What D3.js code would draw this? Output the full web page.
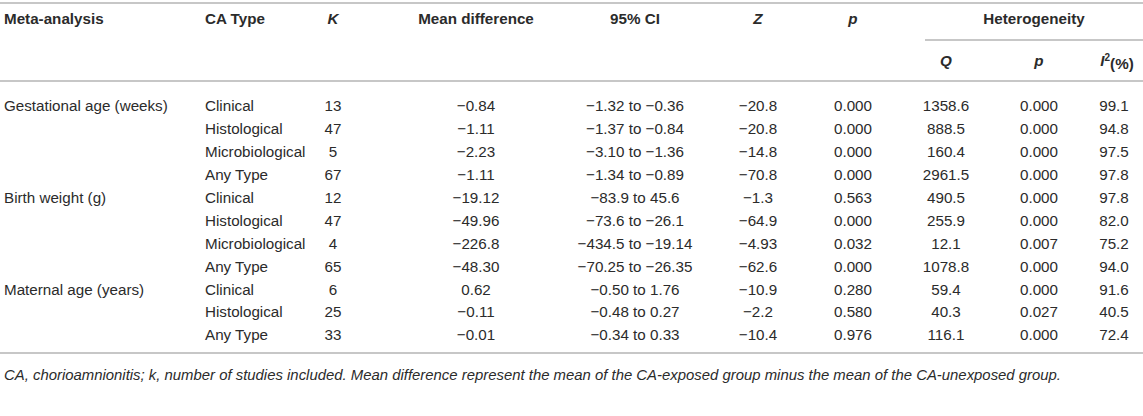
<!DOCTYPE html>
<html><head><meta charset="utf-8">
<script src="https://cdn.jsdelivr.net/npm/d3@7/dist/d3.min.js"></script>
<style>
body{margin:0;background:#fff;}
svg text{font-family:"Liberation Sans",Arial,Helvetica,sans-serif;fill:#2b2b2b;}
</style></head>
<body><svg id="t" width="1143" height="416"></svg>
<script>
const metaGroups = ["Gestational age (weeks)","","","","Birth weight (g)","","","","Maternal age (years)","",""];
const caTypes = ["Clinical","Histological","Microbiological","Any Type","Clinical","Histological","Microbiological","Any Type","Clinical","Histological","Any Type"];
const kValues = ["13","47","5","67","12","47","4","65","6","25","33"];
const meanDiff = ["\u22120.84","\u22121.11","\u22122.23","\u22121.11","\u221219.12","\u221249.96","\u2212226.8","\u221248.30","0.62","\u22120.11","\u22120.01"];
const ci = ["\u22121.32 to \u22120.36","\u22121.37 to \u22120.84","\u22123.10 to \u22121.36","\u22121.34 to \u22120.89","\u221283.9 to 45.6","\u221273.6 to \u221226.1","\u2212434.5 to \u221219.14","\u221270.25 to \u221226.35","\u22120.50 to 1.76","\u22120.48 to 0.27","\u22120.34 to 0.33"];
const zValues = ["\u221220.8","\u221220.8","\u221214.8","\u221270.8","\u22121.3","\u221264.9","\u22124.93","\u221262.6","\u221210.9","\u22122.2","\u221210.4"];
const pValues = ["0.000","0.000","0.000","0.000","0.563","0.000","0.032","0.000","0.280","0.580","0.976"];
const qValues = ["1358.6","888.5","160.4","2961.5","490.5","255.9","12.1","1078.8","59.4","40.3","116.1"];
const hetP = ["0.000","0.000","0.000","0.000","0.000","0.000","0.007","0.000","0.000","0.027","0.000"];
const i2Values = ["99.1","94.8","97.5","97.8","97.8","82.0","75.2","94.0","91.6","40.5","72.4"];
const footnote = "CA, chorioamnionitis; k, number of studies included. Mean difference represent the mean of the CA-exposed group minus the mean of the CA-unexposed group.";

const columns = [
  {key:"meta", vals:metaGroups, x:4, anchor:"start"},
  {key:"ca", vals:caTypes, x:205, anchor:"start"},
  {key:"k", vals:kValues, x:333, anchor:"middle"},
  {key:"md", vals:meanDiff, x:476, anchor:"middle"},
  {key:"ci", vals:ci, x:635, anchor:"middle"},
  {key:"z", vals:zValues, x:758, anchor:"middle"},
  {key:"p", vals:pValues, x:853, anchor:"middle"},
  {key:"q", vals:qValues, x:946, anchor:"middle"},
  {key:"hp", vals:hetP, x:1039, anchor:"middle"},
  {key:"i2", vals:i2Values, x:1114, anchor:"middle"}
];

const svg = d3.select("#t");
const fs = 15.2;
const y = d3.scaleLinear().domain([0, caTypes.length-1]).range([106, 335]);

const rule = (x1,x2,yy)=>svg.append("line").attr("x1",x1).attr("x2",x2).attr("y1",yy).attr("y2",yy)
  .attr("stroke","#b4b4b4").attr("stroke-width",1.6);
rule(0,1143,3);
rule(925,1143,40);
rule(0,1143,81);
rule(0,1143,353);

const hdr = [
  {t:"Meta-analysis", x:4, a:"start", y:19},
  {t:"CA Type", x:205, a:"start", y:19},
  {t:"K", x:333, a:"middle", y:19, it:true},
  {t:"Mean difference", x:476, a:"middle", y:19},
  {t:"95% CI", x:635, a:"middle", y:19},
  {t:"Z", x:758, a:"middle", y:19, it:true},
  {t:"p", x:853, a:"middle", y:19, it:true},
  {t:"Heterogeneity", x:1034, a:"middle", y:19},
  {t:"Q", x:946, a:"middle", y:61, it:true},
  {t:"p", x:1039, a:"middle", y:61, it:true}
];
svg.selectAll("text.h").data(hdr).enter().append("text").attr("class","h")
  .attr("x",d=>d.x).attr("y",d=>d.y).attr("dy","0.35em").attr("text-anchor",d=>d.a)
  .attr("font-size",fs).attr("font-weight","bold").attr("font-style",d=>d.it?"italic":"normal")
  .text(d=>d.t);
const i2h = svg.append("text").attr("x",1117).attr("y",61).attr("dy","0.35em").attr("text-anchor","middle")
  .attr("font-size",fs).attr("font-weight","bold");
i2h.append("tspan").attr("font-style","italic").text("I");
i2h.append("tspan").attr("font-size",10).attr("dy","-0.5em").text("2");
i2h.append("tspan").attr("dy","0.5em").text("(%)");

columns.forEach(c=>{
  svg.selectAll("text.c-"+c.key).data(c.vals).enter().append("text").attr("class","c-"+c.key)
    .attr("x",c.x).attr("y",(d,i)=>y(i)).attr("dy","0.35em").attr("text-anchor",c.anchor)
    .attr("font-size",fs).text(d=>d);
});

svg.append("text").attr("x",4).attr("y",375).attr("dy","0.35em").attr("font-size",14.9)
  .attr("font-style","italic").text(footnote);
</script></body></html>
